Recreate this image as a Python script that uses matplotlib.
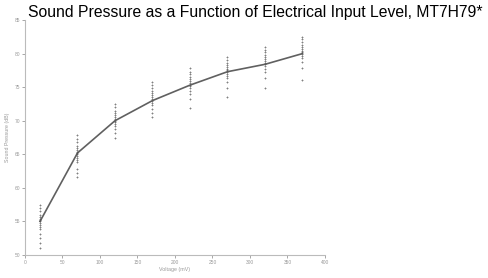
import matplotlib
matplotlib.use('Agg')
import matplotlib.pyplot as plt

# input voltage (mV) and mean sound pressure (dB)
voltage = [20, 70, 120, 170, 220, 270, 320, 370]
mean_spl = [55.0, 65.2, 70.0, 73.0, 75.3, 77.3, 78.4, 80.0]

# individual measurements per voltage step
spl_20 = [57.5, 57.0, 56.5, 56.0, 55.7, 55.4, 55.2, 55.0, 54.8, 54.5, 54.2, 53.8, 53.2, 52.5, 51.8, 51.0]
spl_70 = [67.9, 67.3, 66.8, 66.3, 66.0, 65.7, 65.4, 65.2, 65.0, 64.8, 64.5, 64.2, 63.8, 62.8, 62.2, 61.6]
spl_120 = [72.5, 72.0, 71.5, 71.2, 70.8, 70.5, 70.2, 70.0, 69.8, 69.5, 69.2, 68.8, 68.2, 67.5]
spl_170 = [75.8, 75.3, 74.9, 74.5, 74.2, 73.8, 73.5, 73.2, 73.0, 72.7, 72.3, 71.8, 71.2, 70.5]
spl_220 = [77.8, 77.3, 76.9, 76.5, 76.2, 75.9, 75.6, 75.3, 75.1, 74.8, 74.5, 74.0, 73.3, 71.9]
spl_270 = [79.5, 79.0, 78.6, 78.3, 78.0, 77.7, 77.5, 77.3, 77.0, 76.7, 76.3, 75.8, 74.9, 73.6]
spl_320 = [81.0, 80.6, 80.2, 79.8, 79.5, 79.2, 78.9, 78.6, 78.4, 78.1, 77.7, 77.2, 76.3, 74.9]
spl_370 = [82.5, 82.1, 81.7, 81.3, 81.0, 80.7, 80.4, 80.2, 80.0, 79.7, 79.3, 78.8, 77.8, 76.0]
groups = [spl_20, spl_70, spl_120, spl_170, spl_220, spl_270, spl_320, spl_370]

x_ticks = [0, 50, 100, 150, 200, 250, 300, 350, 400]
y_ticks = [50, 55, 60, 65, 70, 75, 80, 85]

plt.rcParams['font.family'] = ['Liberation Sans', 'DejaVu Sans']

fig = plt.figure(figsize=(4.89, 2.78), dpi=100)
ax = fig.add_axes([25 / 489, 1 - 255 / 278, 300 / 489, 235 / 278])

for v, g in zip(voltage, groups):
    ax.scatter([v] * len(g), g, marker='+', s=4, linewidths=0.6, color='#555555', alpha=0.75, zorder=3)

ax.plot(voltage, mean_spl, color='#606060', linewidth=1.2, zorder=2)

ax.set_xlim(0, 400)
ax.set_ylim(50, 85)
ax.set_xticks(x_ticks)
ax.set_yticks(y_ticks)
ax.tick_params(labelsize=3.5, colors='#999999', length=2, width=0.6, pad=1.5)
for side in ['top', 'right']:
    ax.spines[side].set_visible(False)
for side in ['left', 'bottom']:
    ax.spines[side].set_color('#bbbbbb')
    ax.spines[side].set_linewidth(0.8)

ax.set_xlabel('Voltage (mV)', fontsize=3.8, color='#999999', labelpad=1.5)
ax.set_ylabel('Sound Pressure (dB)', fontsize=3.8, color='#999999', labelpad=3)

fig.text(28 / 489, 1 - 12 / 278, 'Sound Pressure as a Function of Electrical Input Level, MT7H79*',
         fontsize=11.3, ha='left', va='center', color='black')

fig.savefig('out.png', dpi=100)
